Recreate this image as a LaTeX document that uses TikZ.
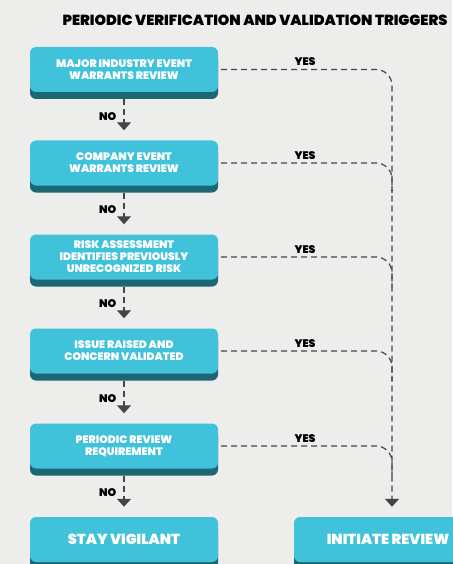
\documentclass[tikz,border=0pt]{standalone}
\usepackage{fontspec}
\newfontfamily\heavyfont{Poppins Black}
\usetikzlibrary{arrows.meta,shadows}

\definecolor{pagebg}{HTML}{EDEEEC}
\definecolor{boxcyan}{HTML}{41C2DB}
\definecolor{boxedge}{HTML}{1D6674}
\definecolor{linegray}{HTML}{454545}

\begin{document}
\begin{tikzpicture}[x=1pt, y=-1pt,
  box/.style={fill=boxcyan, rounded corners=6pt, minimum width=188pt,
              minimum height=45pt, align=center, text=white, inner sep=2pt,
              font=\heavyfont\fontsize{10.8}{12}\selectfont,
              general shadow={fill=black, opacity=0.10, shadow yshift=-10pt,
                              shadow scale=0.9},
              general shadow={fill=boxedge, shadow yshift=-7pt}},
  endbox/.style={box, font=\heavyfont\fontsize{14.5}{16}\selectfont},
  lab/.style={font=\heavyfont\fontsize{11}{12}\selectfont, text=black, inner sep=1pt},
  tip/.style={-{Triangle[width=14pt,length=8pt]}},
  noarr/.style={draw=linegray, line width=1.3pt, dash pattern=on 6pt off 4pt,
                tip, shorten <=7pt, shorten >=10pt},
  yesarr/.style={draw=linegray, line width=1.2pt, dash pattern=on 6pt off 4pt,
                 rounded corners=16pt, shorten <=3pt}
]
\useasboundingbox (0,0) rectangle (452,564);
\fill[pagebg] (0,0) rectangle (452,564);

\node[font=\heavyfont\fontsize{14.6}{17}\selectfont] (title) at (255,20)
  {PERIODIC VERIFICATION AND VALIDATION TRIGGERS};

% decision boxes
\node[box] (industry) at (124,69.5) {MAJOR INDUSTRY EVENT\\WARRANTS REVIEW};
\node[box] (company) at (124,163) {COMPANY EVENT\\WARRANTS REVIEW};
\node[box] (risk) at (124,257) {RISK ASSESSMENT\\IDENTIFIES PREVIOUSLY\\UNRECOGNIZED RISK};
\node[box] (issue) at (124,351) {ISSUE RAISED AND\\CONCERN VALIDATED};
\node[box] (periodic) at (124,446) {PERIODIC REVIEW\\REQUIREMENT};

% outcomes
\node[endbox] (vigilant) at (124,539.5) {STAY VIGILANT};
\node[endbox] (review) at (388,539.5) {INITIATE REVIEW};

\coordinate (rail) at (392,0);

% no branch
\draw[noarr] (industry.south) -- node[lab, left=6pt]{NO} (company.north);
\draw[noarr] (company.south) -- node[lab, left=6pt]{NO} (risk.north);
\draw[noarr] (risk.south) -- node[lab, left=6pt]{NO} (issue.north);
\draw[noarr] (issue.south) -- node[lab, left=6pt]{NO} (periodic.north);
\draw[noarr] (periodic.south) -- node[lab, left=6pt]{NO} (vigilant.north);

% yes branch
\draw[yesarr, tip, shorten >=10pt] (industry.east) -- node[lab, above=2pt]{YES}
  (industry.east -| rail) -- (rail |- review.north);
\draw[yesarr] (company.east) -- node[lab, above=2pt]{YES}
  (company.east -| rail) -- ++(0,30);
\draw[yesarr] (risk.east) -- node[lab, above=2pt]{YES}
  (risk.east -| rail) -- ++(0,30);
\draw[yesarr] (issue.east) -- node[lab, above=2pt]{YES}
  (issue.east -| rail) -- ++(0,30);
\draw[yesarr] (periodic.east) -- node[lab, above=2pt]{YES}
  (periodic.east -| rail) -- ++(0,30);
\end{tikzpicture}
\end{document}
